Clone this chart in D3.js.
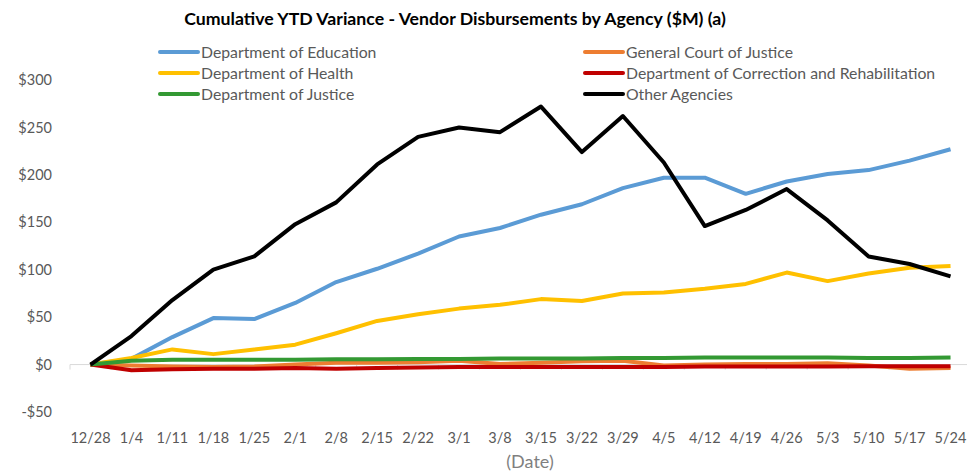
<!DOCTYPE html>
<html>
<head>
<meta charset="utf-8">
<script src="https://cdn.jsdelivr.net/npm/d3@7"></script>
<style>
  body { margin: 0; background: #fff; }
  text { font-family: Lato, "Open Sans", sans-serif; }
</style>
</head>
<body>
<div id="chart-area"></div>
<script>
// week-ending dates on the category axis
const dates = ["12/28","1/4","1/11","1/18","1/25","2/1","2/8","2/15","2/22","3/1","3/8",
  "3/15","3/22","3/29","4/5","4/12","4/19","4/26","5/3","5/10","5/17","5/24"];

// cumulative variance per agency ($M)
const education  = [0, 6, 29, 49, 48, 65, 87, 101, 117, 135, 144, 158, 169, 186, 197, 197, 180, 193, 201, 205, 215, 227];
const court      = [0, -1, -2, -2.5, -2, 0, 2, 2, 2.5, 4, 0.5, 1.8, 3.5, 4, -1, 0, 0.5, 0.5, 1.5, -1, -4.5, -3.5];
const health     = [0, 7, 16, 11, 16, 21, 33, 46, 53, 59, 63, 69, 67, 75, 76, 80, 85, 97, 88, 96, 102, 104];
const correction = [0, -6, -5, -4.5, -4.5, -3.5, -4.5, -3.5, -3, -2.5, -2.5, -2.5, -2.5, -2.5, -2.5, -2, -2, -2, -2, -1.8, -1.8, -1.8];
const justice    = [0, 4, 5, 5, 5, 5, 5.5, 5.5, 6, 6, 6.5, 6.5, 6.5, 7, 7, 7.5, 7.5, 7.5, 7.5, 7, 7, 7.5];
const others     = [0, 30, 68, 100, 114, 148, 171, 211, 240, 250, 245, 272, 224, 262, 213, 146, 163, 185, 152, 114, 106, 93];

const seriesNames  = ["Department of Education", "General Court of Justice", "Department of Health",
  "Department of Correction and Rehabilitation", "Department of Justice", "Other Agencies"];
const seriesColors = ["#5B9BD5", "#ED7D31", "#FFC000", "#C00000", "#339933", "#000000"];
const seriesValues = [education, court, health, correction, justice, others];

const yTicks = [-50, 0, 50, 100, 150, 200, 250, 300];

const chartWidth = 967, chartHeight = 471;
const plot = { left: 70, right: 971, top: 80, bottom: 412 };

const svg = d3.select("#chart-area").append("svg")
  .attr("width", chartWidth)
  .attr("height", chartHeight);

const xScale = d3.scalePoint().domain(dates).range([plot.left, plot.right]).padding(0.5);
const xBand = d3.scaleBand().domain(dates).range([plot.left, plot.right]);
const yScale = d3.scaleLinear().domain([-50, 300]).range([plot.bottom, plot.top]);

// title
svg.append("text")
  .attr("x", 455).attr("y", 25)
  .attr("text-anchor", "middle")
  .style("font-weight", "bold")
  .style("font-size", "17.7px")
  .style("fill", "#000")
  .text("Cumulative YTD Variance - Vendor Disbursements by Agency ($M) (a)");

// y axis labels only
const yAxis = svg.append("g")
  .attr("transform", `translate(${plot.left - 15},0)`)
  .call(d3.axisLeft(yScale).tickValues(yTicks).tickSize(0)
    .tickFormat(d => d < 0 ? "-$" + Math.abs(d) : "$" + d));
yAxis.select(".domain").remove();
yAxis.selectAll("text").style("font-size", "14.5px").style("fill", "#595959");

// zero baseline with category tick marks
const zeroY = yScale(0);
svg.append("line")
  .attr("x1", plot.left).attr("x2", plot.right)
  .attr("y1", zeroY).attr("y2", zeroY)
  .style("stroke", "#d9d9d9").style("stroke-width", 1);
svg.selectAll(".cat-tick")
  .data(dates.concat(["end"]))
  .join("line")
    .attr("class", "cat-tick")
    .attr("x1", (d, i) => i < dates.length ? xBand(d) : plot.right)
    .attr("x2", (d, i) => i < dates.length ? xBand(d) : plot.right)
    .attr("y1", zeroY).attr("y2", zeroY + 5)
    .style("stroke", "#d9d9d9");

// x labels at the bottom
svg.selectAll(".x-label")
  .data(dates)
  .join("text")
    .attr("class", "x-label")
    .attr("x", d => xScale(d))
    .attr("y", 443)
    .attr("text-anchor", "middle")
    .style("font-size", "14.5px")
    .style("fill", "#595959")
    .text(d => d);

svg.append("text")
  .attr("x", 530).attr("y", 468)
  .attr("text-anchor", "middle")
  .style("font-size", "18px")
  .style("fill", "#7f7f7f")
  .text("(Date)");

// series lines
const line = d3.line()
  .x((d, i) => xScale(dates[i]))
  .y(d => yScale(d));

svg.selectAll(".series")
  .data(seriesValues)
  .join("path")
    .attr("class", "series")
    .attr("d", d => line(d))
    .style("fill", "none")
    .style("stroke", (d, i) => seriesColors[i])
    .style("stroke-width", 4)
    .style("stroke-linejoin", "round");

// legend, two columns
const legend = svg.selectAll(".legend-item")
  .data(seriesNames)
  .join("g")
    .attr("class", "legend-item")
    .attr("transform", (d, i) => `translate(${i % 2 === 0 ? 160 : 585},${52 + Math.floor(i / 2) * 21})`);
legend.append("line")
  .attr("x1", 0).attr("x2", 38)
  .style("stroke", (d, i) => seriesColors[i])
  .style("stroke-width", 4)
  .style("stroke-linecap", "round");
legend.append("text")
  .attr("x", 41).attr("y", 5.5)
  .style("font-size", "15.8px")
  .style("fill", "#595959")
  .text(d => d);
</script>
</body>
</html>
